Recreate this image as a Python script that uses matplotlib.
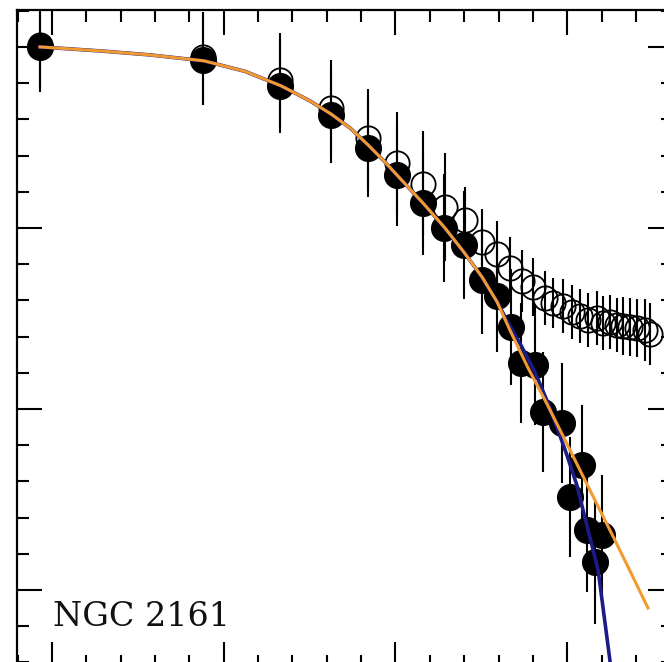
import matplotlib
matplotlib.use("Agg")
import matplotlib.pyplot as plt
from matplotlib.ticker import MultipleLocator, NullFormatter

# log r / log density readings
r_fill = [-0.035, 0.440, 0.664, 0.812, 0.920, 1.004, 1.080, 1.141, 1.199, 1.252, 1.296,
          1.336, 1.365, 1.406, 1.429, 1.485, 1.543, 1.508, 1.557, 1.601, 1.581]
d_fill = [3.000, 2.928, 2.785, 2.624, 2.442, 2.293, 2.138, 2.000, 1.906, 1.713, 1.624,
          1.453, 1.254, 1.243, 0.983, 0.923, 0.691, 0.514, 0.331, 0.304, 0.155]
e_fill = [0.25, 0.25, 0.26, 0.265, 0.27, 0.28, 0.29, 0.30, 0.30, 0.30, 0.31,
          0.32, 0.33, 0.33, 0.33, 0.33, 0.33, 0.33, 0.34, 0.33, 0.34]

r_open = [-0.035, 0.440, 0.664, 0.812, 0.920, 1.004, 1.080, 1.144, 1.202, 1.252, 1.296,
          1.333, 1.368, 1.400, 1.435, 1.459, 1.488, 1.514, 1.537, 1.560, 1.587, 1.604,
          1.624, 1.645, 1.662, 1.683, 1.703, 1.726, 1.741]
d_open = [3.011, 2.945, 2.818, 2.663, 2.497, 2.359, 2.243, 2.116, 2.044, 1.923, 1.856,
          1.779, 1.707, 1.674, 1.613, 1.586, 1.569, 1.536, 1.514, 1.492, 1.503, 1.475,
          1.481, 1.464, 1.459, 1.453, 1.448, 1.436, 1.414]
e_open = [0.25, 0.25, 0.26, 0.265, 0.27, 0.28, 0.29, 0.30, 0.18, 0.18, 0.18,
          0.17, 0.17, 0.16, 0.15, 0.14, 0.15, 0.15, 0.15, 0.15, 0.15, 0.15,
          0.15, 0.15, 0.16, 0.16, 0.16, 0.17, 0.17]

# fitted profiles
r_king = [-0.035, 0.140, 0.285, 0.443, 0.562, 0.667, 0.751, 0.812, 0.868, 0.920, 0.969,
          1.004, 1.042, 1.080, 1.144, 1.199, 1.252, 1.296, 1.333, 1.368, 1.406, 1.444,
          1.473, 1.499, 1.528, 1.557, 1.590, 1.625, 1.636]
d_king = [3.000, 2.978, 2.956, 2.923, 2.865, 2.785, 2.702, 2.630, 2.552, 2.459, 2.365,
          2.293, 2.215, 2.138, 2.000, 1.867, 1.729, 1.591, 1.459, 1.343, 1.204, 1.033,
          0.884, 0.746, 0.580, 0.359, 0.110, -0.398, -0.552]

r_eff = [-0.035, 0.140, 0.285, 0.443, 0.562, 0.667, 0.751, 0.812, 0.868, 0.920, 0.969,
         1.004, 1.042, 1.080, 1.144, 1.199, 1.252, 1.296, 1.333, 1.386, 1.441, 1.485,
         1.537, 1.595, 1.633, 1.683, 1.735]
d_eff = [3.000, 2.978, 2.956, 2.923, 2.865, 2.785, 2.702, 2.630, 2.552, 2.459, 2.365,
         2.293, 2.215, 2.138, 2.000, 1.867, 1.729, 1.591, 1.436, 1.227, 1.028, 0.862,
         0.663, 0.442, 0.298, 0.105, -0.099]

label = "NGC 2161"

fig = plt.figure(figsize=(6.64, 6.62), dpi=100)
ax = fig.add_axes([17 / 664, -5 / 662, 656 / 664, 657 / 662])

ax.errorbar(r_open, d_open, yerr=e_open, fmt="o", ms=17.5, mfc="none", mec="black",
            mew=1.3, ecolor="black", elinewidth=1.5, capsize=0, zorder=2)
ax.errorbar(r_fill, d_fill, yerr=e_fill, fmt="o", ms=18.5, mfc="black", mec="black",
            ecolor="black", elinewidth=1.5, capsize=0, zorder=3)
ax.plot(r_king, d_king, color="#1c1c88", lw=2.6, zorder=4)
ax.plot(r_eff, d_eff, color="#f29a30", lw=2.2, zorder=5)

ax.set_xlim(-0.102, 1.808)
ax.set_ylim(-0.425, 3.204)
ax.xaxis.set_major_locator(MultipleLocator(0.5))
ax.xaxis.set_minor_locator(MultipleLocator(0.1))
ax.yaxis.set_major_locator(MultipleLocator(1.0))
ax.yaxis.set_minor_locator(MultipleLocator(0.2))
ax.xaxis.set_major_formatter(NullFormatter())
ax.yaxis.set_major_formatter(NullFormatter())
ax.tick_params(which="both", direction="in", top=True, right=True, width=1.5, color="black")
ax.tick_params(which="major", length=18)
ax.tick_params(which="minor", length=8.5)
for s in ax.spines.values():
    s.set_linewidth(1.6)

ax.text(0.055, 0.062, label, family="DejaVu Serif", fontsize=24, color="#111111",
        transform=ax.transAxes)

fig.savefig("out.png", dpi=100)
